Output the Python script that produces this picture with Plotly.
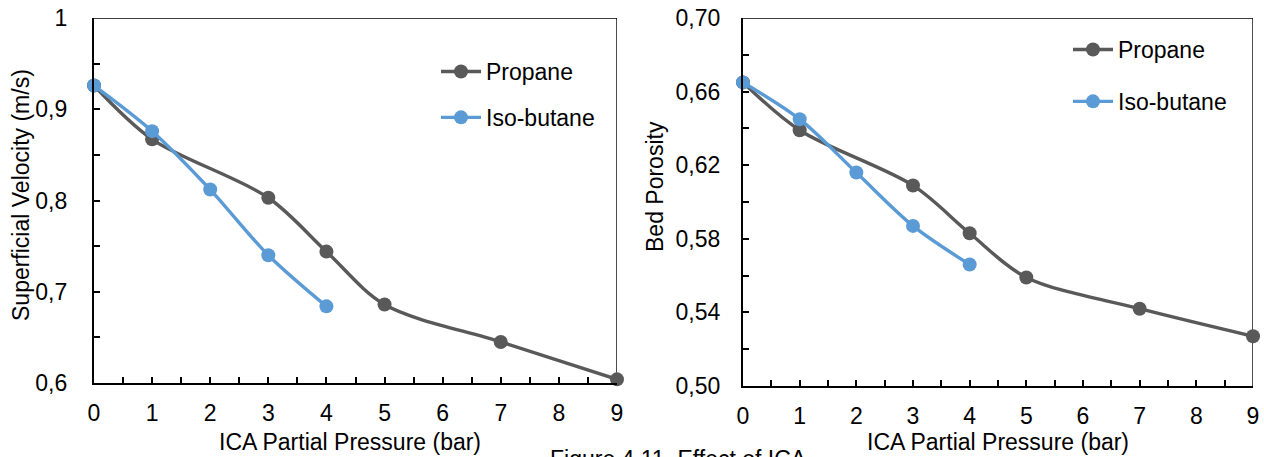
import plotly.graph_objects as go

# ---- data ----
propane_x = [0, 1, 3, 4, 5, 7, 9]
propane_velocity = [0.926, 0.867, 0.803, 0.744, 0.686, 0.645, 0.604]
propane_porosity = [0.665, 0.639, 0.609, 0.583, 0.559, 0.542, 0.527]

isobutane_x = [0, 1, 2, 3, 4]
isobutane_velocity = [0.926, 0.876, 0.812, 0.740, 0.684]
isobutane_porosity = [0.665, 0.645, 0.616, 0.587, 0.566]

series_names = ["Propane", "Iso-butane"]
x_title = "ICA Partial Pressure (bar)"
y_title_left = "Superficial Velocity (m/s)"
y_title_right = "Bed Porosity"
caption = "Figure 4.11. Effect of ICA"

GRAY = "#595959"
BLUE = "#5B9BD5"
FONT = "Liberation Sans, Arial, sans-serif"
FS = 23

W, H = 1264, 457

def px_x(p):
    return p / W

def px_y(p):
    return 1 - p / H

fig = go.Figure()

def add_series(x, y, name, color, xa, ya, legend):
    fig.add_trace(go.Scatter(
        x=x, y=y, name=name, mode="lines+markers",
        line=dict(color=color, width=3.4, shape="spline", smoothing=0.9),
        marker=dict(color=color, size=14),
        xaxis=xa, yaxis=ya, legend=legend, legendgroup=legend + name,
        cliponaxis=False,
    ))

add_series(propane_x, propane_velocity, series_names[0], GRAY, "x", "y", "legend")
add_series(isobutane_x, isobutane_velocity, series_names[1], BLUE, "x", "y", "legend")
add_series(propane_x, propane_porosity, series_names[0], GRAY, "x2", "y2", "legend2")
add_series(isobutane_x, isobutane_porosity, series_names[1], BLUE, "x2", "y2", "legend2")

axis_common = dict(
    showgrid=False, zeroline=False, showline=True, linecolor="black", linewidth=2.2,
    ticks="inside", ticklen=6, tickwidth=1.6, tickcolor="black",
    tickfont=dict(family=FONT, size=FS, color="black"),
    automargin=False, ticklabeloverflow="allow",
)
minor_x = dict(ticks="inside", ticklen=6, tickwidth=1.6, tickcolor="black", dtick=0.5)

L_dom_x = [px_x(94), px_x(617)]
L_dom_y = [px_y(383), px_y(18)]
R_dom_x = [px_x(743), px_x(1253)]
R_dom_y = [px_y(386), px_y(18)]

fig.update_layout(
    width=W, height=H,
    margin=dict(l=0, r=0, t=0, b=0),
    paper_bgcolor="white", plot_bgcolor="rgba(0,0,0,0)",
    separators=", ",
    font=dict(family=FONT, size=FS, color="black"),
    xaxis=dict(domain=L_dom_x, anchor="y", range=[0, 9], dtick=1, tick0=0,
               minor=minor_x, ticklabelstandoff=8, **axis_common),
    yaxis=dict(domain=L_dom_y, anchor="x", range=[0.6, 1.0], dtick=0.1, tick0=0.6,
               minor=dict(ticks="inside", ticklen=6, tickwidth=1.6, tickcolor="black", dtick=0.05),
               ticklabelstandoff=20, **axis_common),
    xaxis2=dict(domain=R_dom_x, anchor="y2", range=[0, 9], dtick=1, tick0=0,
                minor=minor_x, ticklabelstandoff=8, **axis_common),
    yaxis2=dict(domain=R_dom_y, anchor="x2", range=[0.50, 0.70], dtick=0.04, tick0=0.50,
                tickformat=".2f",
                minor=dict(ticks="inside", ticklen=6, tickwidth=1.6, tickcolor="black", dtick=0.02),
                ticklabelstandoff=16, **axis_common),
    legend=dict(x=px_x(436), y=px_y(50), xanchor="left", yanchor="top",
                bgcolor="rgba(0,0,0,0)", font=dict(family=FONT, size=FS, color="black"),
                tracegroupgap=13, itemwidth=40),
    legend2=dict(x=px_x(1068), y=px_y(28), xanchor="left", yanchor="top",
                 bgcolor="rgba(0,0,0,0)", font=dict(family=FONT, size=FS, color="black"),
                 tracegroupgap=19, itemwidth=40),
    showlegend=True,
)

# frame top/right lines (thin)
for xr, yr, y0, y1 in [("x", "y", 0.6, 1.0), ("x2", "y2", 0.5, 0.7)]:
    fig.add_shape(type="line", xref=xr, yref=yr, x0=0, x1=9, y0=y1, y1=y1,
                  line=dict(color="black", width=1.4), layer="below")
    fig.add_shape(type="line", xref=xr, yref=yr, x0=9, x1=9, y0=y0, y1=y1,
                  line=dict(color="black", width=1.4), layer="below")

ann_font = dict(family=FONT, size=FS, color="black")
fig.add_annotation(text=x_title, xref="paper", yref="paper", x=px_x(350), y=px_y(442),
                   xanchor="center", yanchor="middle", showarrow=False, font=ann_font)
fig.add_annotation(text=x_title, xref="paper", yref="paper", x=px_x(998), y=px_y(442),
                   xanchor="center", yanchor="middle", showarrow=False, font=ann_font)
fig.add_annotation(text=y_title_left, xref="paper", yref="paper", x=px_x(21), y=px_y(195),
                   xanchor="center", yanchor="middle", showarrow=False, textangle=-90, font=ann_font)
fig.add_annotation(text=y_title_right, xref="paper", yref="paper", x=px_x(655), y=px_y(187),
                   xanchor="center", yanchor="middle", showarrow=False, textangle=-90, font=ann_font)
fig.add_annotation(text=caption, xref="paper", yref="paper", x=px_x(548), y=px_y(444),
                   xanchor="left", yanchor="top", showarrow=False, font=ann_font)

fig.write_html("out.html", config={"displayModeBar": False},
               post_script="document.body.style.margin='0px';document.body.style.overflow='hidden';")
